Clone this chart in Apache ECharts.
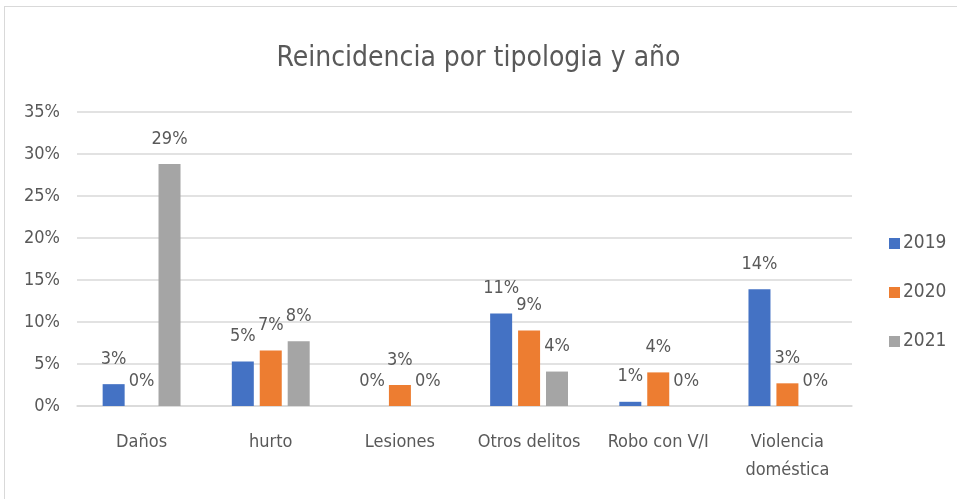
<!DOCTYPE html>
<html>
<head>
<meta charset="utf-8">
<script src="https://cdn.jsdelivr.net/npm/echarts@6/dist/echarts.min.js"></script>
<style>
  html, body { margin: 0; padding: 0; background: #fff; }
  #frame { position: absolute; left: 4px; top: 6px; width: 960px; height: 500px; border: 1px solid #d9d9d9; box-sizing: border-box; }
  #chart { position: absolute; left: 0; top: 0; width: 957px; height: 499px; }
</style>
</head>
<body>
<div id="frame"></div>
<div id="chart"></div>
<script>
// Data (percent)
const categories = ['Daños', 'hurto', 'Lesiones', 'Otros delitos', 'Robo con V/I', 'Violencia\ndoméstica'];
const years = ['2019', '2020', '2021'];
const values2019 = [2.6, 5.3, 0, 11.0, 0.5, 13.9];
const values2020 = [0, 6.6, 2.5, 9.0, 4.0, 2.7];
const values2021 = [28.8, 7.7, 0, 4.1, 0, 0];
const yTicks = [0, 5, 10, 15, 20, 25, 30, 35];
const colors = ['#4472C4', '#ED7D31', '#A5A5A5'];

const fontFamily = '"Liberation Sans Narrow", "DejaVu Sans Condensed", sans-serif';
const textColor = '#595959';

function makeSeries(name, data, color) {
    return {
        name: name,
        type: 'bar',
        data: data,
        barWidth: 22,
        barGap: '27%',
        itemStyle: { color: color },
        label: {
            show: true,
            position: 'top',
            distance: 16,
            color: textColor,
            fontFamily: fontFamily,
            fontSize: 18,
            formatter: function (p) { return Math.round(p.value) + '%'; }
        }
    };
}

const chart = echarts.init(document.getElementById('chart'));
chart.setOption({
    animation: false,
    color: colors,
    title: {
        text: 'Reincidencia por tipologia y año',
        left: 'center',
        top: 40,
        textStyle: { color: textColor, fontFamily: fontFamily, fontSize: 28, fontWeight: 'normal' }
    },
    legend: {
        orient: 'vertical',
        left: 884,
        top: 229,
        itemWidth: 11,
        itemHeight: 11,
        itemGap: 30,
        icon: 'rect',
        data: years,
        textStyle: { color: textColor, fontFamily: fontFamily, fontSize: 19, padding: [0, 0, 0, -2] }
    },
    grid: { left: 77, right: 105, top: 112, bottom: 93, containLabel: false },
    xAxis: {
        type: 'category',
        data: categories,
        axisLine: { lineStyle: { color: '#d9d9d9', width: 1.5 } },
        axisTick: { show: false },
        axisLabel: {
            color: textColor,
            fontFamily: fontFamily,
            fontSize: 18,
            margin: 22,
            lineHeight: 28,
            interval: 0
        }
    },
    yAxis: {
        type: 'value',
        min: yTicks[0],
        max: yTicks[yTicks.length - 1],
        interval: 5,
        axisLine: { show: false },
        axisTick: { show: false },
        splitLine: { lineStyle: { color: '#d9d9d9', width: 1.5 } },
        axisLabel: {
            color: textColor,
            fontFamily: fontFamily,
            fontSize: 18,
            margin: 17,
            formatter: '{value}%'
        }
    },
    series: [
        makeSeries(years[0], values2019, colors[0]),
        makeSeries(years[1], values2020, colors[1]),
        makeSeries(years[2], values2021, colors[2])
    ]
});
</script>
</body>
</html>
